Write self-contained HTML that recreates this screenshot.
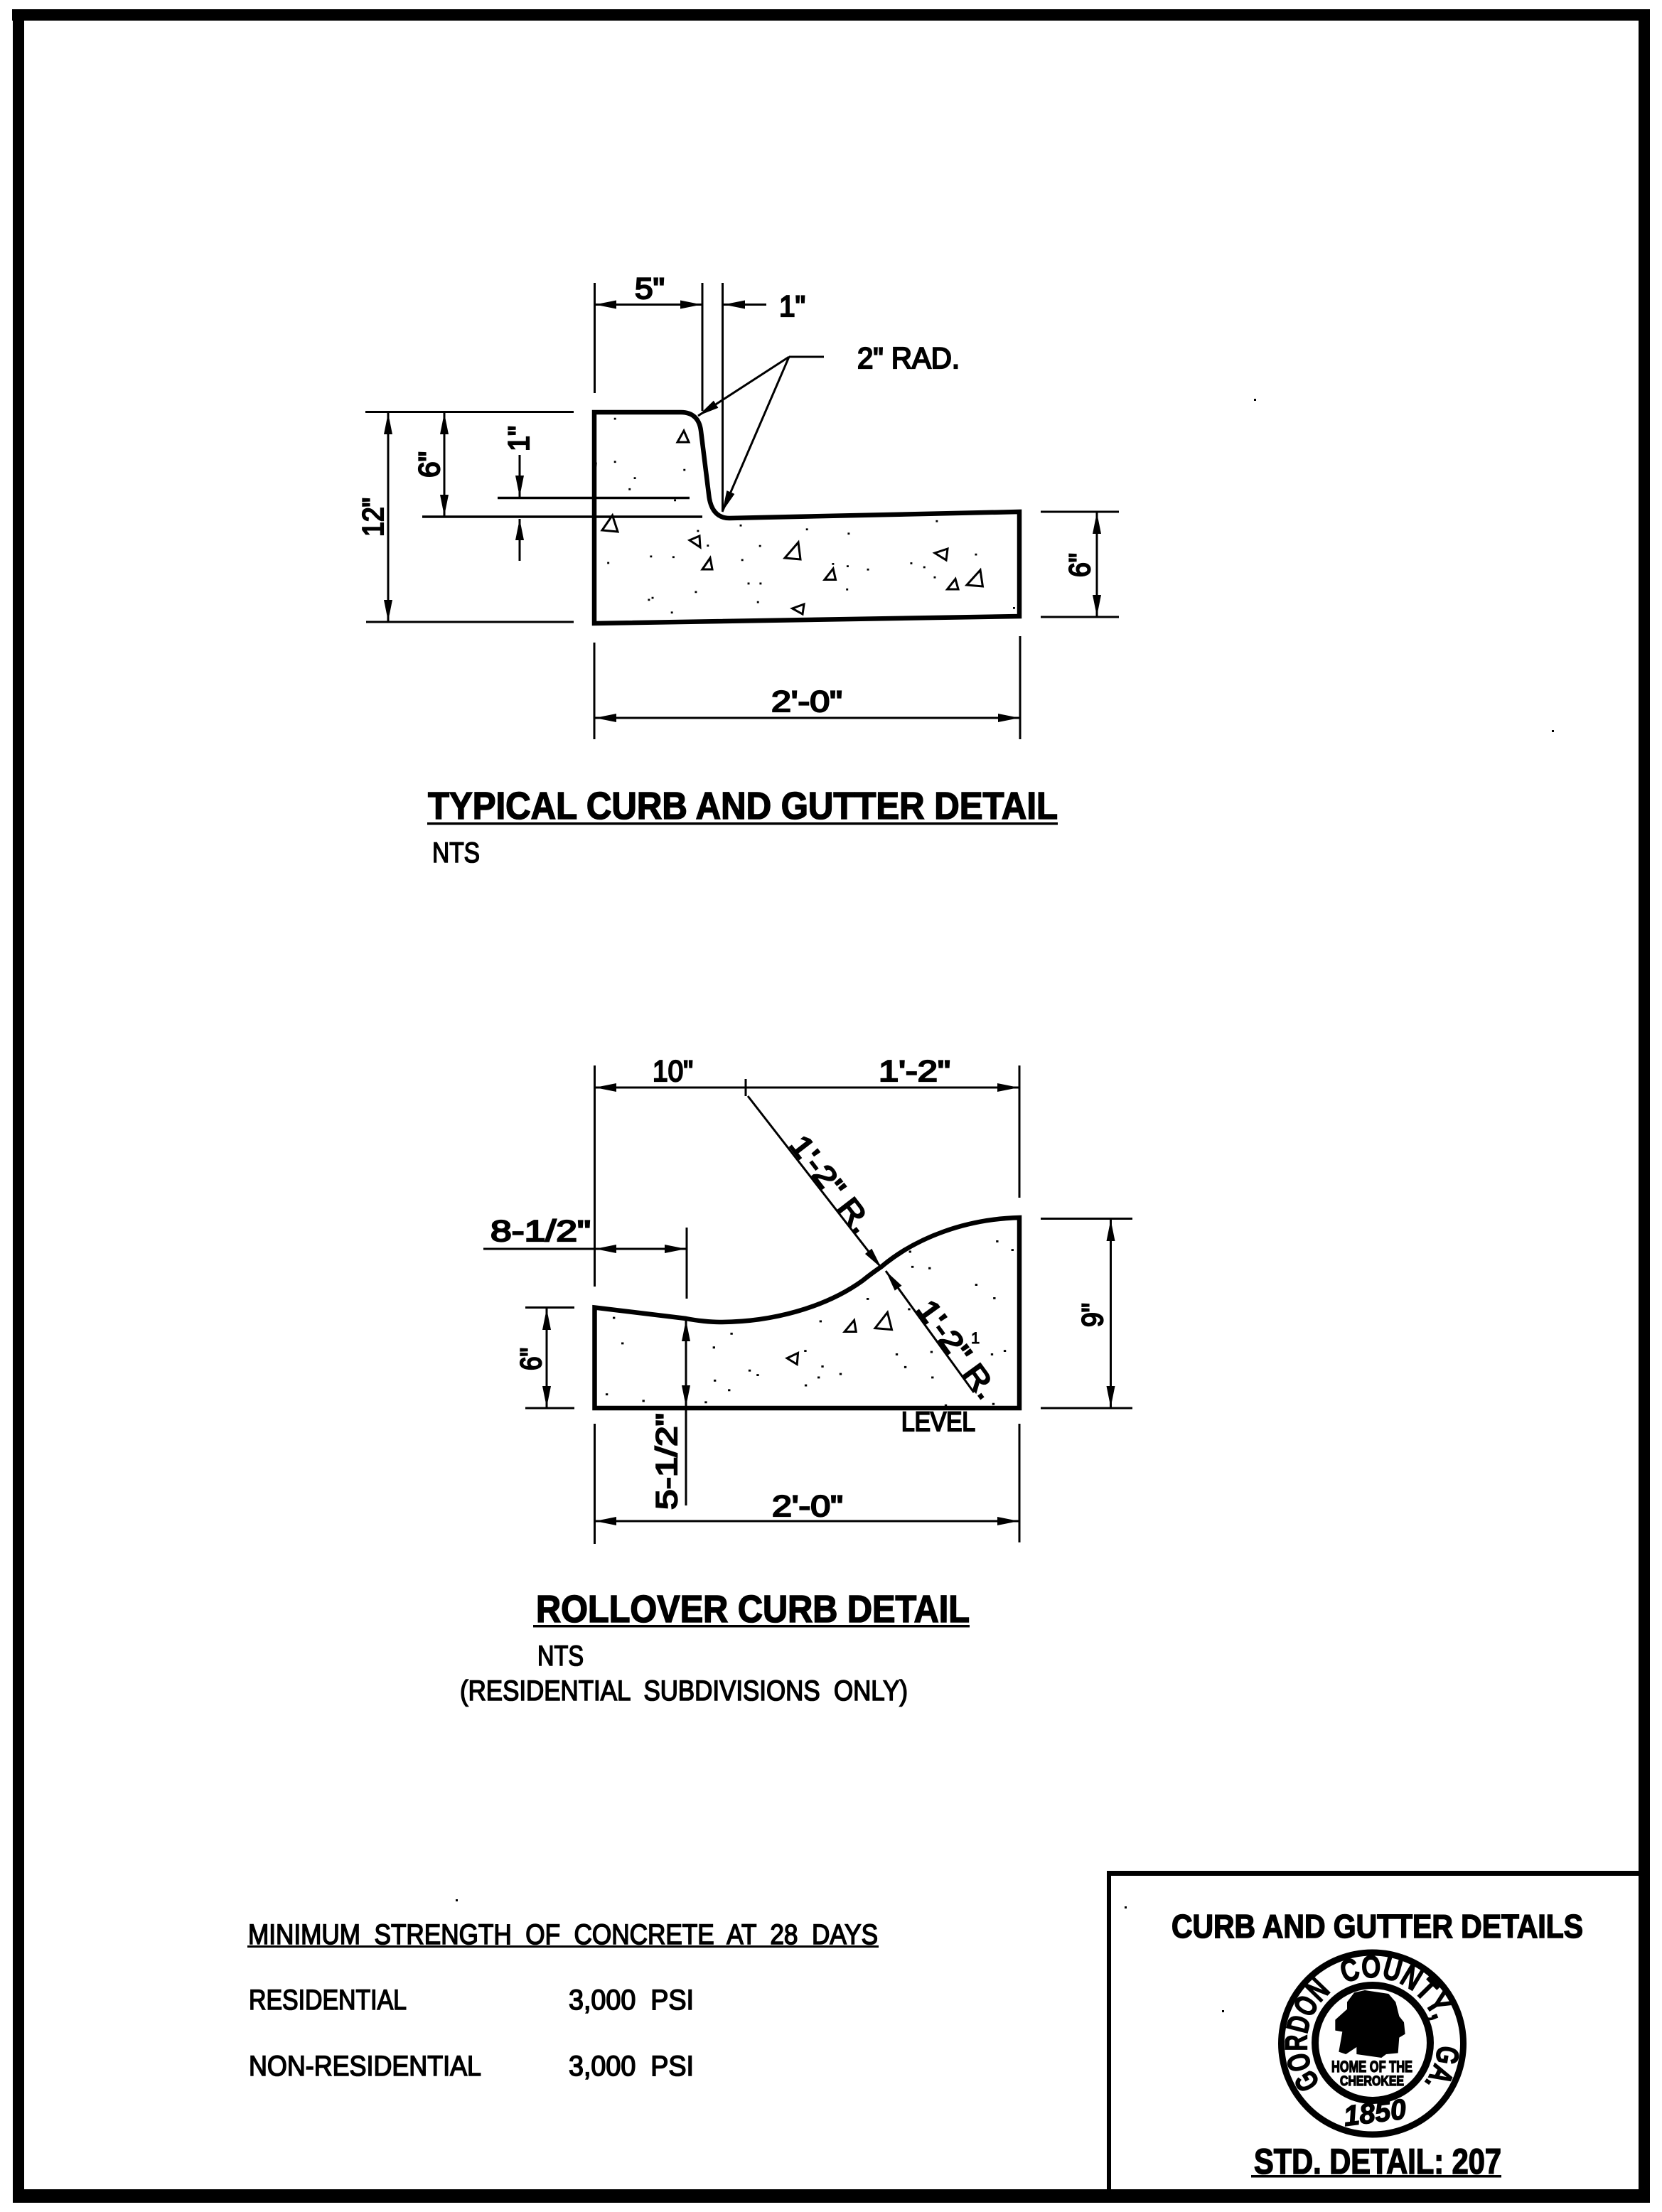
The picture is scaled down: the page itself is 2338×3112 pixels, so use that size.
<!DOCTYPE html>
<html lang="en">
<head>
<meta charset="utf-8">
<title>Curb and Gutter Details</title>
<style>
html,body{margin:0;padding:0;background:#fff}
svg{display:block;position:absolute;left:0;top:0}
text{font-family:"Liberation Sans",Arial,sans-serif;fill:#000}
.d{font-size:42px;stroke:#000;stroke-width:2.2px}
.n{font-size:40px;stroke:#000;stroke-width:1.6px}
.b{font-size:54px;font-weight:bold;stroke:#000;stroke-width:1.6px}
.s{font-size:44px;font-weight:bold;stroke:#000;stroke-width:1.4px}
.l{fill:none;stroke:#000;stroke-width:3}
.a{fill:none;stroke:#000;stroke-width:3;marker-end:url(#ah);marker-start:url(#ah)}
.e{fill:none;stroke:#000;stroke-width:3;marker-end:url(#ah)}
.k{fill:none;stroke:#000;stroke-width:6.5;stroke-linejoin:miter}
.t{fill:none;stroke:#000;stroke-width:3}
</style>
</head>
<body>
<svg xmlns="http://www.w3.org/2000/svg" width="2338" height="3112" viewBox="0 0 2338 3112">
<defs>
<marker id="ah" markerUnits="userSpaceOnUse" markerWidth="32" markerHeight="14" refX="30" refY="7" orient="auto-start-reverse">
<path d="M0 1 L30 7 L0 13 Z" fill="#000"/>
</marker>
<path id="sealarc" d="M1858 2930.600 A92 92 0 1 1 2003 2930.600"/>
</defs>
<rect width="2338" height="3112" fill="#fff"/>

<!-- outer frame -->
<rect x="17" y="13" width="2304" height="16"/>
<rect x="18" y="13" width="16" height="3086"/>
<rect x="2305" y="13" width="16" height="3086"/>
<rect x="18" y="3080" width="2303" height="19"/>
<!-- title box -->
<rect x="1557" y="2632" width="6" height="450"/>
<rect x="1557" y="2632" width="750" height="7"/>

<!-- ================= TYPICAL CURB ================= -->
<path class="k" d="M836 580 H958 C975 580 984 590 986 606 L997 695 C999 716 1008 729 1026 729 L1434 720 V867 L836 877 Z"/>
<path d="M840 650 L836 680 L834 662 Z"/>

<path class="l" d="M836.500 398V553 M988 398V578 M1016.500 398V718 M514 579.500H807 M515 875H807 M594 727H988 M836 904V1040 M1435 895V1040 M1464 720H1574 M1464 868H1574"/>
<path class="l" style="stroke-width:3.6" d="M700 700.500H970 M594 727H988"/>
<path class="a" d="M837 428.500H987"/>
<path class="e" d="M1078 428.500H1018"/>
<path class="a" d="M546 581V874"/>
<path class="a" d="M625 581V726"/>
<path class="e" d="M731 640V699"/>
<path class="e" d="M731 789V730"/>
<path class="a" d="M1543 721V867"/>
<path class="a" d="M837 1010H1434"/>
<path class="l" d="M1159 502H1110"/>
<path class="e" d="M1110 502L982 585"/>
<path class="e" d="M1110 502L1016 720"/>

<text class="d" x="893" y="420" textLength="42" lengthAdjust="spacingAndGlyphs">5"</text>
<text class="d" x="1096" y="445" textLength="37" lengthAdjust="spacingAndGlyphs">1"</text>
<text class="d" x="1206" y="518" textLength="144" lengthAdjust="spacingAndGlyphs">2" RAD.</text>
<text class="d" x="1085" y="1001" textLength="100" lengthAdjust="spacingAndGlyphs">2'-0"</text>
<text class="d" transform="translate(539 755) rotate(-90)" textLength="55" lengthAdjust="spacingAndGlyphs">12"</text>
<text class="d" transform="translate(618 672) rotate(-90)" textLength="37" lengthAdjust="spacingAndGlyphs">6"</text>
<text class="d" transform="translate(744 635) rotate(-90)" textLength="36" lengthAdjust="spacingAndGlyphs">1"</text>
<text class="d" transform="translate(1533 812) rotate(-90)" textLength="34" lengthAdjust="spacingAndGlyphs">6"</text>

<!-- typical aggregate triangles -->
<g class="t">
<path d="M962 606L953 622L969 622Z"/>
<path d="M861.500 725L847 746L869 748Z"/>
<path d="M984 754L970 760L985 770Z"/>
<path d="M999 785L988 801L1002 801Z"/>
<path d="M1123 763L1104 785L1126 787Z"/>
<path d="M1172 800L1160 815.500L1175.500 815.500Z"/>
<path d="M1333 772L1315 778L1331 788Z"/>
<path d="M1344 814.500L1332.600 829L1348 829Z"/>
<path d="M1379 802L1360 823L1382.400 825Z"/>
<path d="M1131 850L1114.600 856L1129 864Z"/>
</g>
<g transform="translate(480 360) scale(.7337 .4591)">
<path d="M523 496h4v6h-4zM523 628h4v6h-4zM656 653h4v6h-4zM561 678h4v6h-4zM551 712h4v6h-4zM638 746h4v6h-4zM682 840h4v6h-4zM701 885h4v6h-4zM764 823h4v6h-4zM891 835h4v6h-4zM971 848h4v6h-4zM1140 810h4v6h-4zM801 886h4v6h-4zM592 918h4v6h-4zM635 920h4v6h-4zM510 938h4v6h-4zM767 929h4v6h-4zM941 941h4v6h-4zM969 948h4v6h-4zM1008 958h4v6h-4zM1091 939h4v6h-4zM1116 951h4v6h-4zM1215 912h4v6h-4zM1136 982h4v6h-4zM779 1001h4v6h-4zM802 1001h4v6h-4zM678 1027h4v6h-4zM968 1019h4v6h-4zM595 1045h4v6h-4zM588 1051h4v6h-4zM797 1058h4v6h-4zM632 1090h4v6h-4zM1288 1076h4v6h-4z"/>
</g>

<!-- typical title -->
<text class="b" x="602" y="1152" textLength="886" lengthAdjust="spacingAndGlyphs">TYPICAL CURB AND GUTTER DETAIL</text>
<rect x="601" y="1157" width="887" height="3.500"/>
<text class="n" x="608" y="1213" textLength="67" lengthAdjust="spacingAndGlyphs">NTS</text>

<!-- ================= ROLLOVER CURB ================= -->
<path class="k" d="M836.500 1839.500 L965 1855 C980 1858 1000 1860 1012 1860 C1085 1860 1160 1840 1213 1802 Q1228 1790 1240 1782 C1290 1740 1360 1715 1434 1713 V1981 H836.500 Z"/>

<path class="l" d="M836.500 1499V1810 M836.500 2003V2172 M1434 1499V1685 M1434 2003V2170 M1049 1518V1542 M966 1727V1827 M739 1839.500H808 M739 1981H808 M1464 1714.500H1593 M1464 1981H1593 M680 1757H836"/>
<path class="a" d="M837 1530H1433"/>
<path class="a" d="M837 1757H965"/>
<path class="a" d="M769 1841V1980"/>
<path class="a" d="M1562.500 1716V1980"/>
<path class="a" d="M837 2140H1433"/>
<path class="e" d="M965 2118V1857"/>
<path class="e" d="M965 1950V1979"/>
<path class="e" d="M1052 1542L1240 1784"/>
<path class="e" d="M1370 1959L1246 1788"/>

<text class="d" x="918" y="1521" textLength="57" lengthAdjust="spacingAndGlyphs">10"</text>
<text class="d" x="1236" y="1521" textLength="101" lengthAdjust="spacingAndGlyphs">1'-2"</text>
<text class="d" x="690" y="1746" textLength="141" lengthAdjust="spacingAndGlyphs">8-1/2"</text>
<text class="d" x="1086" y="2133" textLength="100" lengthAdjust="spacingAndGlyphs">2'-0"</text>
<text class="d" style="font-size:38px" x="1268" y="2013" textLength="104" lengthAdjust="spacingAndGlyphs">LEVEL</text>
<text class="d" transform="translate(761 1928) rotate(-90)" textLength="32" lengthAdjust="spacingAndGlyphs">6"</text>
<text class="d" transform="translate(952 2124) rotate(-90)" textLength="136" lengthAdjust="spacingAndGlyphs">5-1/2"</text>
<text class="d" transform="translate(1551 1867) rotate(-90)" textLength="34" lengthAdjust="spacingAndGlyphs">9"</text>
<text class="d" transform="translate(1109 1611) rotate(52.400)" textLength="160" lengthAdjust="spacingAndGlyphs">1'-2" R.</text>
<text class="d" transform="translate(1288 1842) rotate(54)" textLength="160" lengthAdjust="spacingAndGlyphs">1'-2" R.</text>
<text x="1366" y="1890" style="font-size:22px;stroke:#000;stroke-width:1px">1</text>

<g transform="translate(580 1460) scale(.6698 .4847)">
<g class="t">
<path vector-effect="non-scaling-stroke" d="M928 820L908 853L932 853Z"/>
<path vector-effect="non-scaling-stroke" d="M998 797L972 843L1007 847Z"/>
<path vector-effect="non-scaling-stroke" d="M810 915L787 930L808 948Z"/>
</g>
<path d="M421 810h5v6h-5zM439 884h5v6h-5zM631 896h5v6h-5zM668 856h5v6h-5zM855 820h5v6h-5zM954 755h5v6h-5zM1041 785h5v6h-5zM1048 662h5v6h-5zM1084 666h5v6h-5zM1226 588h5v6h-5zM1258 613h5v6h-5zM1182 714h5v6h-5zM1220 753h5v6h-5zM1015 916h5v6h-5zM1088 909h5v6h-5zM1215 916h5v6h-5zM1242 906h5v6h-5zM1033 953h5v6h-5zM1090 983h5v6h-5zM823 906h5v6h-5zM859 951h5v6h-5zM851 983h5v6h-5zM897 973h5v6h-5zM706 963h5v6h-5zM723 976h5v6h-5zM633 992h5v6h-5zM824 1006h5v6h-5zM663 1020h5v6h-5zM406 1032h5v6h-5zM483 1051h5v6h-5zM614 1055h5v6h-5zM1218 1060h5v6h-5zM1118 1064h5v6h-5zM1043 618h5v6h-5z"/>
</g>

<!-- rollover title -->
<text class="b" x="754" y="2282" textLength="610" lengthAdjust="spacingAndGlyphs">ROLLOVER CURB DETAIL</text>
<rect x="750" y="2286" width="614" height="3.500"/>
<text class="n" x="756" y="2343" textLength="65" lengthAdjust="spacingAndGlyphs">NTS</text>
<text class="n" x="647" y="2392" textLength="630" lengthAdjust="spacingAndGlyphs" xml:space="preserve">(RESIDENTIAL  SUBDIVISIONS  ONLY)</text>

<!-- notes -->
<text class="n" x="349" y="2735" textLength="886" lengthAdjust="spacingAndGlyphs" xml:space="preserve">MINIMUM  STRENGTH  OF  CONCRETE  AT  28  DAYS</text>
<rect x="348" y="2737" width="888" height="3"/>
<text class="n" x="350" y="2827" textLength="222" lengthAdjust="spacingAndGlyphs">RESIDENTIAL</text>
<text class="n" x="800" y="2827" textLength="176" lengthAdjust="spacingAndGlyphs" xml:space="preserve">3,000  PSI</text>
<text class="n" x="350" y="2920" textLength="327" lengthAdjust="spacingAndGlyphs">NON-RESIDENTIAL</text>
<text class="n" x="800" y="2920" textLength="176" lengthAdjust="spacingAndGlyphs" xml:space="preserve">3,000  PSI</text>

<!-- title block -->
<text x="1648" y="2726" style="font-size:46px;font-weight:bold;stroke:#000;stroke-width:1.6px" textLength="579" lengthAdjust="spacingAndGlyphs">CURB AND GUTTER DETAILS</text>

<circle cx="1930.500" cy="2875" r="128" fill="none" stroke="#000" stroke-width="9"/>
<circle cx="1931" cy="2874" r="81" fill="none" stroke="#000" stroke-width="10"/>
<text class="s"><textPath href="#sealarc" startOffset="0" textLength="143" lengthAdjust="spacingAndGlyphs">GORDON</textPath></text>
<text class="s"><textPath href="#sealarc" startOffset="165" textLength="153" lengthAdjust="spacingAndGlyphs">COUNTY,</textPath></text>
<text class="s"><textPath href="#sealarc" startOffset="352" textLength="58" lengthAdjust="spacingAndGlyphs">GA.</textPath></text>
<g transform="translate(1780 2730) scale(.3333)">
<path d="M420 210 L375 220 L345 260 L345 290 L295 335 L295 380 L325 385 L310 470 L340 480 L370 460 L385 450 L385 480 L490 495 L510 480 L560 475 L565 410 L590 395 L585 345 L565 320 L550 260 L520 225 Z"/>
</g>
<text x="1873" y="2915" style="font-size:22px;font-weight:bold;stroke:#000;stroke-width:1.4px" textLength="114" lengthAdjust="spacingAndGlyphs">HOME OF THE</text>
<text x="1885" y="2934" style="font-size:19px;font-weight:bold;stroke:#000;stroke-width:1.4px" textLength="90" lengthAdjust="spacingAndGlyphs">CHEROKEE</text>
<text transform="translate(1892 2991) rotate(-7)" style="font-size:40px;font-weight:bold;font-style:italic;stroke:#000;stroke-width:1.4px" textLength="88" lengthAdjust="spacingAndGlyphs">1850</text>
<text x="1764" y="3058" style="font-size:50px;font-weight:bold;stroke:#000;stroke-width:1.6px" textLength="348" lengthAdjust="spacingAndGlyphs">STD. DETAIL: 207</text>
<rect x="1760" y="3060" width="352" height="3.500"/>

<!-- stray specks -->
<path d="M1764 561h3v3h-3zM2183 1027h3v3h-3zM641 2672h3v3h-3zM1582 2682h3v3h-3zM1719 2828h3v3h-3z"/>
</svg>
</body>
</html>
